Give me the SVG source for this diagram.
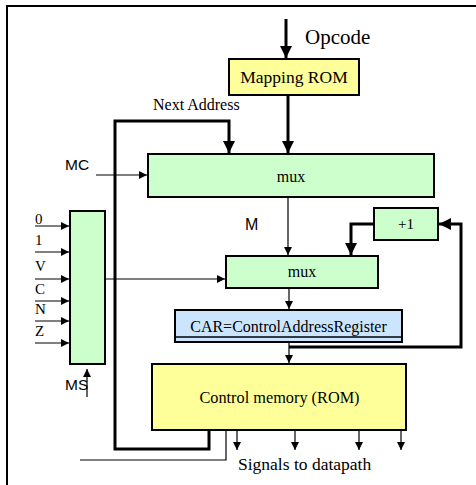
<svg xmlns="http://www.w3.org/2000/svg" width="476" height="485" viewBox="0 0 476 485">
  <defs>
    <marker id="ah" viewBox="0 0 10 10" refX="10" refY="5" markerWidth="4" markerHeight="4" markerUnits="strokeWidth" orient="auto">
      <path d="M0,0 L10,5 L0,10 z" fill="#000"/>
    </marker>
    <marker id="ahs" viewBox="0 0 10 10" refX="10" refY="5" markerWidth="7" markerHeight="7" markerUnits="strokeWidth" orient="auto">
      <path d="M0,0 L10,5 L0,10 z" fill="#000"/>
    </marker>
  </defs>
  <style>
    .serif { font-family: "Liberation Serif", "Times New Roman", serif; fill: #000; }
    .sans { font-family: "Liberation Sans", Arial, sans-serif; fill: #000; }
    .box { stroke: #000; stroke-width: 2; }
    .green { fill: #CCFFCC; }
    .yellow { fill: #FFFF99; }
    .blue { fill: #CCE5FF; }
    .thick { fill: none; stroke: #000; stroke-width: 3; }
    .thin { fill: none; stroke: #000; stroke-width: 1.2; }
  </style>
  <rect width="476" height="485" fill="#fff"/>
  <!-- outer frame, open to the right and bottom edges -->
  <rect x="7" y="6" width="480" height="490" fill="none" stroke="#000" stroke-width="2"/>

  <g id="connectors">
    <!-- opcode into mapping ROM -->
    <line x1="286" y1="19" x2="286" y2="58" class="thick" marker-end="url(#ah)"/>
    <!-- mapping ROM to upper mux -->
    <line x1="288" y1="95" x2="288" y2="153" class="thick" marker-end="url(#ah)"/>
    <!-- next address loop -->
    <path d="M209,430 V449 H115 V121 H229 V153" class="thick" marker-end="url(#ah)"/>
    <!-- MC select -->
    <line x1="96" y1="175" x2="147" y2="175" class="thin" marker-end="url(#ahs)"/>
    <!-- upper mux to lower mux -->
    <line x1="288" y1="197" x2="288" y2="255" class="thin" stroke-width="2" marker-end="url(#ahs)"/>
    <!-- +1 to lower mux -->
    <path d="M373,224 H351 V255" class="thick" marker-end="url(#ah)"/>
    <!-- lower mux to CAR -->
    <line x1="289" y1="288" x2="289" y2="309" class="thin" stroke-width="2" marker-end="url(#ahs)"/>
    <!-- CAR to control memory -->
    <line x1="289" y1="342" x2="289" y2="363" class="thin" stroke-width="2" marker-end="url(#ahs)"/>
    <!-- increment loop -->
    <path d="M289,347 H461 V224 H439" class="thick" marker-end="url(#ah)"/>
    <!-- condition inputs -->
    <line x1="35" y1="226" x2="69" y2="226" class="thin" marker-end="url(#ahs)"/>
    <line x1="35" y1="252" x2="69" y2="252" class="thin" marker-end="url(#ahs)"/>
    <line x1="35" y1="279" x2="69" y2="279" class="thin" marker-end="url(#ahs)"/>
    <line x1="35" y1="301" x2="69" y2="301" class="thin" marker-end="url(#ahs)"/>
    <line x1="35" y1="321" x2="69" y2="321" class="thin" marker-end="url(#ahs)"/>
    <line x1="35" y1="343" x2="69" y2="343" class="thin" marker-end="url(#ahs)"/>
    <!-- condition mux to lower mux -->
    <line x1="105" y1="279" x2="225" y2="279" class="thin" marker-end="url(#ahs)"/>
    <!-- MS select -->
    <line x1="87" y1="397" x2="87" y2="369" class="thin" marker-end="url(#ahs)"/>
    <!-- control memory output -->
    <path d="M80,460 H226 V430" class="thin" stroke-width="1"/>
    <line x1="237" y1="430" x2="237" y2="450" class="thin" stroke-width="1" marker-end="url(#ahs)"/>
    <line x1="295" y1="430" x2="295" y2="450" class="thin" stroke-width="1" marker-end="url(#ahs)"/>
    <line x1="359" y1="430" x2="359" y2="450" class="thin" stroke-width="1" marker-end="url(#ahs)"/>
    <line x1="401" y1="430" x2="401" y2="450" class="thin" stroke-width="1" marker-end="url(#ahs)"/>
  </g>

  <text x="305" y="44" class="serif" font-size="21">Opcode</text>
  <text x="153" y="110" class="serif" font-size="16">Next Address</text>
  <text x="65" y="170" class="sans" font-size="15.5">MC</text>
  <text x="245" y="230" class="sans" font-size="16">M</text>
  <text x="65" y="390" class="sans" font-size="15.5">MS</text>
  <text x="238" y="470" class="serif" font-size="17.5">Signals to datapath</text>

  <g class="serif" font-size="15">
    <text x="35" y="224">0</text>
    <text x="35" y="245">1</text>
    <text x="35" y="271">V</text>
    <text x="35" y="294">C</text>
    <text x="35" y="314">N</text>
    <text x="35" y="336">Z</text>
  </g>

  <g id="mapping-rom">
    <rect x="229" y="59" width="130" height="36" class="box yellow" stroke-width="1.5"/>
    <text x="294" y="83" class="serif" font-size="17.5" text-anchor="middle">Mapping ROM</text>
  </g>
  <g id="mux-upper">
    <rect x="148" y="154" width="286" height="43" class="box green"/>
    <text x="291" y="182" class="serif" font-size="16" text-anchor="middle">mux</text>
  </g>
  <g id="cond-mux">
    <rect x="70" y="211" width="35" height="153" class="box green"/>
  </g>
  <g id="incr">
    <rect x="374" y="208" width="64" height="32" class="box green"/>
    <text x="406" y="229" class="serif" font-size="15" text-anchor="middle">+1</text>
  </g>
  <g id="mux-lower">
    <rect x="226" y="256" width="152" height="32" class="box green"/>
    <text x="302" y="277" class="serif" font-size="16" text-anchor="middle">mux</text>
  </g>
  <g id="car">
    <rect x="175" y="310" width="227" height="32" class="box blue"/>
    <line x1="175" y1="337" x2="402" y2="337" stroke="#000" stroke-width="1.5"/>
    <text x="288.5" y="332" class="serif" font-size="16" text-anchor="middle">CAR=ControlAddressRegister</text>
  </g>
  <g id="control-memory">
    <rect x="152" y="364" width="254" height="66" class="box yellow"/>
    <text x="279.5" y="403" class="serif" font-size="16.3" text-anchor="middle">Control memory (ROM)</text>
  </g>
</svg>
